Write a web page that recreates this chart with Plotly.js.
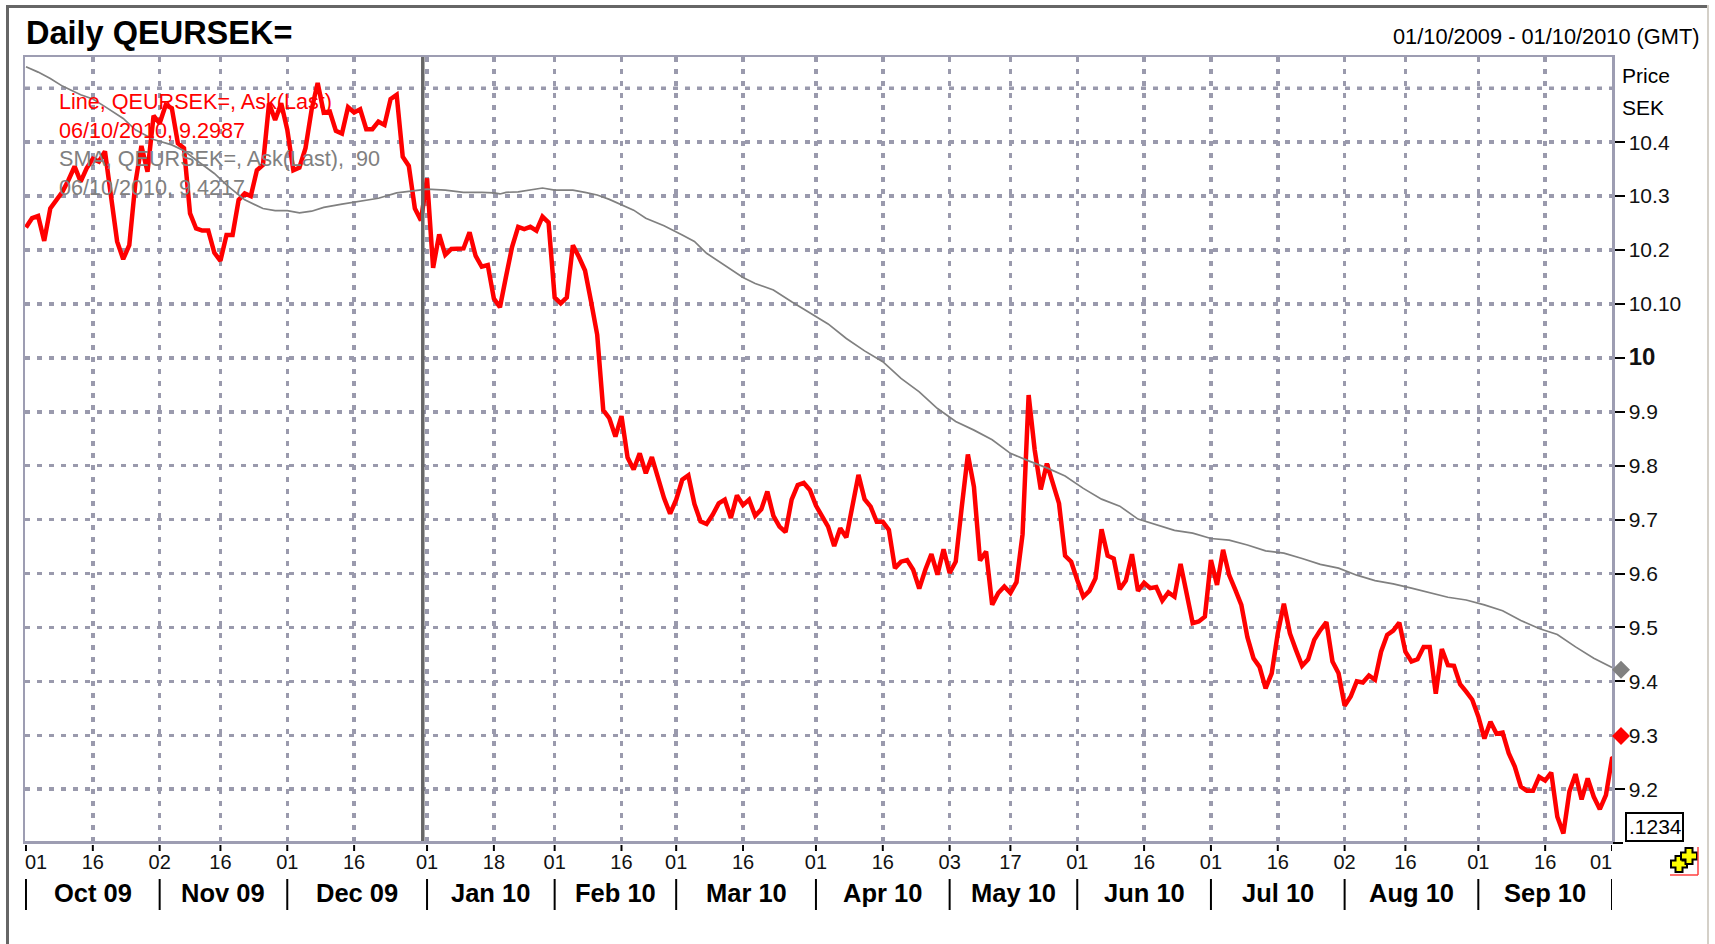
<!DOCTYPE html>
<html>
<head>
<meta charset="utf-8">
<script src="https://cdn.plot.ly/plotly-3.0.1.min.js"></script>
<style>
html,body{margin:0;padding:0;background:#fff;overflow:hidden}
#chart{position:absolute;left:0;top:0;width:1715px;height:944px}
#frameTop{position:absolute;left:6px;top:5px;width:1702px;height:3px;background:#666}
#frameLeft{position:absolute;left:6px;top:5px;width:3px;height:939px;background:#666}
#frameRight{position:absolute;left:1707px;top:5px;width:2px;height:939px;background:#d4d0c8}
</style>
</head>
<body>
<div id="chart"></div>
<div id="frameTop"></div><div id="frameLeft"></div><div id="frameRight"></div>
<script>
const titleText = 'Daily QEURSEK=';
const rangeText = '01/10/2009 - 01/10/2010 (GMT)';
const legendLines = ['Line, QEURSEK=, Ask(Last)', '06/10/2010, 9.2987', 'SMA, QEURSEK=, Ask(Last),  90', '06/10/2010, 9.4217'];
const lastAsk = 9.2987;
const lastSma = 9.4217;

const askValues = [
10.242,10.259,10.263,10.217,10.277,10.294,10.308,10.330,10.355,10.327,
10.352,10.369,10.364,10.383,10.296,10.216,10.183,10.209,10.324,10.393,
10.345,10.449,10.435,10.469,10.463,10.398,10.389,10.268,10.240,10.236,
10.236,10.195,10.180,10.228,10.228,10.293,10.305,10.300,10.348,10.358,
10.472,10.441,10.472,10.423,10.348,10.353,10.389,10.460,10.510,10.455,
10.457,10.421,10.416,10.465,10.455,10.461,10.424,10.424,10.438,10.432,
10.480,10.488,10.373,10.356,10.277,10.255,10.333,10.167,10.229,10.191,
10.202,10.203,10.203,10.233,10.189,10.169,10.172,10.110,10.094,10.151,
10.206,10.243,10.239,10.243,10.236,10.262,10.251,10.112,10.101,10.112,
10.209,10.187,10.162,10.104,10.043,9.903,9.888,9.854,9.892,9.815,
9.793,9.823,9.786,9.816,9.774,9.740,9.711,9.737,9.774,9.782,
9.729,9.697,9.692,9.709,9.730,9.737,9.703,9.745,9.727,9.737,
9.707,9.719,9.752,9.707,9.687,9.677,9.737,9.764,9.768,9.755,
9.726,9.705,9.687,9.651,9.684,9.667,9.724,9.783,9.738,9.724,
9.696,9.696,9.681,9.610,9.622,9.625,9.607,9.572,9.607,9.636,
9.598,9.645,9.601,9.622,9.724,9.821,9.761,9.624,9.641,9.542,
9.564,9.576,9.564,9.584,9.673,9.931,9.829,9.756,9.804,9.770,
9.730,9.633,9.622,9.588,9.557,9.568,9.591,9.682,9.633,9.628,
9.571,9.587,9.636,9.568,9.583,9.573,9.575,9.550,9.565,9.557,
9.618,9.563,9.508,9.511,9.520,9.625,9.579,9.644,9.597,9.570,
9.542,9.482,9.443,9.427,9.387,9.415,9.489,9.544,9.489,9.458,
9.429,9.441,9.477,9.495,9.510,9.437,9.415,9.355,9.372,9.400,
9.398,9.411,9.403,9.455,9.486,9.494,9.509,9.455,9.437,9.441,
9.464,9.464,9.377,9.460,9.430,9.429,9.395,9.381,9.366,9.335,
9.294,9.325,9.303,9.305,9.267,9.242,9.205,9.197,9.197,9.223,
9.216,9.231,9.149,9.118,9.196,9.228,9.181,9.220,9.186,9.163,
9.189,9.257,9.262
];

const smaDays = [0,2,4,6,9,11,13,16,18,21,24,26,28,31,33,36,39,41,43,45,47,49,52,55,58,61,64,66,69,72,75,77,78,79,81,83,85,87,90,92,94,96,98,100,102,105,108,110,112,115,118,120,123,126,129,132,135,138,141,144,147,150,153,156,159,162,165,168,171,174,177,180,183,186,189,192,195,198,201,204,207,210,213,216,219,222,225,228,231,234,237,240,243,246,249,252,255,258,261];
const smaValues = [10.540,10.530,10.518,10.504,10.488,10.480,10.466,10.444,10.423,10.405,10.395,10.384,10.367,10.342,10.321,10.293,10.277,10.273,10.273,10.269,10.272,10.279,10.285,10.290,10.296,10.306,10.311,10.313,10.311,10.307,10.307,10.306,10.304,10.307,10.308,10.311,10.315,10.311,10.311,10.307,10.302,10.294,10.284,10.274,10.259,10.245,10.228,10.216,10.194,10.172,10.149,10.138,10.126,10.104,10.083,10.063,10.036,10.013,9.993,9.962,9.937,9.906,9.882,9.866,9.848,9.823,9.809,9.796,9.781,9.758,9.738,9.725,9.701,9.690,9.680,9.675,9.665,9.662,9.653,9.642,9.638,9.628,9.617,9.610,9.597,9.587,9.581,9.573,9.565,9.556,9.551,9.542,9.531,9.513,9.498,9.487,9.464,9.443,9.426];

const xTickDates = ['2009-10-01','2009-10-16','2009-11-02','2009-11-16','2009-12-01','2009-12-16','2010-01-01','2010-01-18','2010-02-01','2010-02-16','2010-03-01','2010-03-16','2010-04-01','2010-04-16','2010-05-03','2010-05-17','2010-06-01','2010-06-16','2010-07-01','2010-07-16','2010-08-02','2010-08-16','2010-09-01','2010-09-16','2010-10-01'];
const xTickLabels = ['01','16','02','16','01','16','01','18','01','16','01','16','01','16','03','17','01','16','01','16','02','16','01','16','01'];
const monthStarts = ['2009-10-01','2009-11-02','2009-12-01','2010-01-01','2010-02-01','2010-03-01','2010-04-01','2010-05-03','2010-06-01','2010-07-01','2010-08-02','2010-09-01','2010-10-01'];
const monthLabels = ['Oct 09','Nov 09','Dec 09','Jan 10','Feb 10','Mar 10','Apr 10','May 10','Jun 10','Jul 10','Aug 10','Sep 10'];
const yTickValues = [10.4,10.3,10.2,10.1,10,9.9,9.8,9.7,9.6,9.5,9.4,9.3,9.2];
const yTickLabels = ['10.4','10.3','10.2','10.10','<span style="font-size:24px"><b>10</b></span>','9.9','9.8','9.7','9.6','9.5','9.4','9.3','9.2'];

// business-day categories of the time axis
const dates = [];
for (let d = new Date(Date.UTC(2009,9,1)); dates.length < askValues.length; d = new Date(d.getTime()+864e5)) {
  const w = d.getUTCDay();
  if (w !== 0 && w !== 6) dates.push(d.toISOString().slice(0,10));
}
const dayOf = s => dates.indexOf(s);

const W = 1715, H = 944, L = 25, R = 1612, T = 57, B = 841;
const px = x => (x - L) / (R - L);
const py = y => (B - y) / (B - T);
const FONT = '"Liberation Sans", Arial, sans-serif';
const RED = '#ff0000', GREY = '#808080', GRID = '#9a9aad', AXIS = '#9d9db2';
const DASH = '5px,7px';
const GRIDW = 3.5;

const traces = [
  {x: dates, y: askValues, type:'scatter', mode:'lines', line:{color:RED,width:4.5,shape:'linear'}, hoverinfo:'skip', showlegend:false},
  {x: smaDays.map(i=>dates[i]), y: smaValues, type:'scatter', mode:'lines', line:{color:GREY,width:1.7}, hoverinfo:'skip', showlegend:false}
];

const shapes = [];
const line = (o) => shapes.push(Object.assign({type:'line', layer:'above'}, o));
const diamond = (value,color) => shapes.push({type:'path',layer:'above',xref:'paper',yref:'y',xsizemode:'pixel',ysizemode:'pixel',xanchor:px(1621),yanchor:value,path:'M-9,0L0,-9L9,0L0,9Z',fillcolor:color,line:{width:0}});
// top gridline (10.5 has no label or tick)
line({xref:'paper',yref:'y',x0:0,x1:1,y0:10.5,y1:10.5,layer:'below',line:{color:GRID,width:GRIDW,dash:DASH}});
// year-end divider
line({xref:'x',yref:'paper',x0:65.3,x1:65.3,y0:0,y1:1,line:{color:'#666666',width:3.5}});
// detached x ticks
xTickDates.forEach(s=>line({xref:'x',yref:'paper',x0:dayOf(s),x1:dayOf(s),y0:py(845),y1:py(851),line:{color:'#000',width:2}}));
// month separators
monthStarts.forEach(s=>line({xref:'x',yref:'paper',x0:dayOf(s),x1:dayOf(s),y0:py(879),y1:py(910),line:{color:'#000',width:2}}));
// tick at 9.1 under the plot
line({xref:'paper',yref:'paper',x0:px(1613),x1:px(1623),y0:py(843),y1:py(843),line:{color:'#000',width:2}});
// line end running just past the axis edge
line({xref:'x',yref:'y',x0:261,x1:261.7,y0:askValues[261],y1:askValues[262],line:{color:RED,width:3}});
// current-value diamonds
diamond(lastSma,GREY);
diamond(lastAsk,RED);
// value box
shapes.push({type:'rect',xref:'paper',yref:'paper',x0:px(1626),x1:px(1683),y0:py(841),y1:py(813),line:{color:'#000',width:2},fillcolor:'#fff'});
// tool icon
const plus = (cx,cy,a,b) => {
  const p = [[cx-a,cy-b],[cx+a,cy-b],[cx+a,cy-a],[cx+b,cy-a],[cx+b,cy+a],[cx+a,cy+a],[cx+a,cy+b],[cx-a,cy+b],[cx-a,cy+a],[cx-b,cy+a],[cx-b,cy-a],[cx-a,cy-a]];
  return 'M'+p.map(q=>px(q[0])+','+py(q[1])).join('L')+'Z';
};
shapes.push({type:'path',xref:'paper',yref:'paper',path:plus(1679,864,3.5,8),fillcolor:'#ffff00',line:{color:'#000',width:2}});
shapes.push({type:'path',xref:'paper',yref:'paper',path:plus(1689,856,3.5,8),fillcolor:'#ffff00',line:{color:'#000',width:2}});
line({xref:'paper',yref:'paper',x0:px(1698),x1:px(1698),y0:py(847),y1:py(875),line:{color:'#ff4040',width:1.5}});
line({xref:'paper',yref:'paper',x0:px(1670),x1:px(1698),y0:py(875),y1:py(875),line:{color:'#ff4040',width:1.5}});

const note = (text,x,y,size,color,anchor,extra) => Object.assign({xref:'paper',yref:'paper',x:px(x),y:py(y),text,showarrow:false,xanchor:anchor,yanchor:'middle',font:{family:FONT,size,color},borderpad:0,borderwidth:0}, extra||{});
const annotations = [
  note('<b>'+titleText+'</b>',26,33,32.5,'#000','left'),
  note(rangeText,1700,36,21.8,'#000','right'),
  note('Price',1622,75,21,'#000','left'),
  note('SEK',1622,107,21,'#000','left'),
  note('.1234',1655,826,21,'#000','center'),
  note(legendLines[0],59,101,21.6,RED,'left'),
  note(legendLines[1],59,130,21.6,RED,'left'),
  note(legendLines[2],59,159,21.6,GREY,'left'),
  note(legendLines[3],59,187,21.6,GREY,'left'),
  // first and last day labels sit inside the axis ends
  note(xTickLabels[0],36,862,20,'#111','center'),
  note(xTickLabels[xTickLabels.length-1],1601,862,20,'#111','center')
];
monthLabels.forEach((m,i)=>{
  annotations.push({xref:'x',yref:'paper',x:(dayOf(monthStarts[i])+dayOf(monthStarts[i+1]))/2,y:py(893),text:'<b>'+m+'</b>',showarrow:false,xanchor:'center',yanchor:'middle',font:{family:FONT,size:25.5,color:'#000'}});
});

const layout = {
  width:W,height:H,autosize:false,
  margin:{l:L,r:W-R,t:T,b:H-B,pad:0},
  paper_bgcolor:'#fff',plot_bgcolor:'#fff',
  showlegend:false,
  font:{family:FONT,color:'#000'},
  xaxis:{type:'category',range:[-0.16,261],categoryorder:'array',categoryarray:dates,
    tickmode:'array',tickvals:xTickDates,ticktext:xTickLabels.map((t,i)=>(i===0||i===xTickLabels.length-1)?'':t),tickangle:0,
    ticks:'',ticklabelstandoff:1,tickfont:{family:FONT,size:20,color:'#111'},
    showgrid:true,gridcolor:GRID,gridwidth:GRIDW,griddash:DASH,
    showline:true,linecolor:AXIS,linewidth:2.5,mirror:true,zeroline:false,fixedrange:true},
  yaxis:{type:'linear',side:'right',range:[9.104,10.558],
    tickmode:'array',tickvals:yTickValues,ticktext:yTickLabels,
    ticks:'outside',ticklen:10,tickwidth:2,tickcolor:'#000',ticklabelstandoff:0,
    tickfont:{family:FONT,size:21,color:'#111'},
    showgrid:true,gridcolor:GRID,gridwidth:GRIDW,griddash:DASH,
    showline:true,linecolor:AXIS,linewidth:2.5,mirror:true,zeroline:false,fixedrange:true},
  shapes,annotations
};
Plotly.newPlot('chart',traces,layout,{staticPlot:true,displayModeBar:false});
</script>
</body>
</html>
